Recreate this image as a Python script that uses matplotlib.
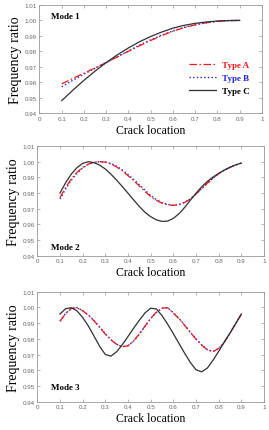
import numpy as np
import matplotlib
matplotlib.use('Agg')
import matplotlib.pyplot as plt

# crack location grids
x1 = [0.1, 0.15, 0.2, 0.25, 0.3, 0.35, 0.4, 0.45, 0.5, 0.55, 0.6, 0.65, 0.7, 0.75, 0.8, 0.85, 0.9]
x23 = [0.1, 0.125, 0.15, 0.175, 0.2, 0.225, 0.25, 0.275, 0.3, 0.325, 0.35, 0.375, 0.4,
       0.425, 0.45, 0.475, 0.5, 0.525, 0.55, 0.575, 0.6, 0.625, 0.65, 0.675, 0.7,
       0.725, 0.75, 0.775, 0.8, 0.825, 0.85, 0.875, 0.9]

# mode 1
m1_a = [0.9589, 0.9624, 0.9658, 0.9692, 0.9727, 0.9763, 0.9800, 0.9836, 0.9870, 0.9902,
        0.9930, 0.9953, 0.9971, 0.9985, 0.9994, 0.9999, 1.0]
m1_b = [0.9570, 0.9612, 0.9652, 0.9690, 0.9727, 0.9765, 0.9803, 0.9840, 0.9874, 0.9905,
        0.9932, 0.9955, 0.9972, 0.9985, 0.9994, 0.9999, 1.0]
m1_c = [0.9480, 0.9548, 0.9612, 0.9672, 0.9727, 0.9777, 0.9822, 0.9862, 0.9896, 0.9925,
        0.9950, 0.9968, 0.9981, 0.9990, 0.9996, 0.9999, 1.0]

# mode 2
m2_a = [0.9772, 0.9835, 0.9890, 0.9932, 0.9964, 0.9985, 0.9996, 1.0, 0.9997, 0.9985,
        0.9966, 0.9941, 0.9911, 0.9879, 0.9845, 0.9810, 0.9778, 0.9753, 0.9735, 0.9725,
        0.9721, 0.9726, 0.9740, 0.9762, 0.9794, 0.9828, 0.9862, 0.9895, 0.9924, 0.9946,
        0.9964, 0.9979, 0.9991]
m2_b = [0.9762, 0.9826, 0.9882, 0.9926, 0.9960, 0.9983, 0.9995, 1.0, 0.9998, 0.9988,
        0.9971, 0.9947, 0.9918, 0.9887, 0.9853, 0.9818, 0.9785, 0.9758, 0.9739, 0.9727,
        0.9722, 0.9726, 0.9740, 0.9762, 0.9794, 0.9828, 0.9862, 0.9895, 0.9924, 0.9946,
        0.9964, 0.9979, 0.9991]
m2_c = [0.9800, 0.9866, 0.9921, 0.9962, 0.9989, 1.0, 0.9994, 0.9978, 0.9953, 0.9920,
        0.9882, 0.9841, 0.9799, 0.9756, 0.9714, 0.9677, 0.9649, 0.9629, 0.9619, 0.9621,
        0.9638, 0.9668, 0.9708, 0.9754, 0.9799, 0.9840, 0.9874, 0.9902, 0.9925, 0.9947,
        0.9964, 0.9980, 0.9991]

# mode 3
m3_a = [0.9911, 0.9960, 0.9993, 0.9998, 0.9979, 0.9950, 0.9915, 0.9873, 0.9830, 0.9793,
        0.9765, 0.9749, 0.9756, 0.9787, 0.9831, 0.9881, 0.9930, 0.9970, 0.9995, 0.9998,
        0.9964, 0.9928, 0.9885, 0.9840, 0.9798, 0.9760, 0.9730, 0.9719, 0.9739, 0.9781,
        0.9837, 0.9897, 0.9956]
m3_b = [0.9914, 0.9962, 0.9994, 0.9998, 0.9980, 0.9952, 0.9917, 0.9875, 0.9832, 0.9795,
        0.9766, 0.9750, 0.9756, 0.9786, 0.9830, 0.9879, 0.9928, 0.9968, 0.9994, 0.9998,
        0.9966, 0.9930, 0.9887, 0.9842, 0.9800, 0.9762, 0.9731, 0.9719, 0.9738, 0.9780,
        0.9836, 0.9896, 0.9956]
m3_c = [0.9958, 0.9992, 0.9998, 0.9978, 0.9936, 0.9882, 0.9818, 0.9752, 0.9700, 0.9690,
        0.9718, 0.9763, 0.9815, 0.9868, 0.9918, 0.9965, 0.9995, 0.9990, 0.9948, 0.9893,
        0.9833, 0.9770, 0.9708, 0.9650, 0.9603, 0.9590, 0.9614, 0.9664, 0.9720, 0.9779,
        0.9837, 0.9897, 0.9958]

labels = ['Type A', 'Type B', 'Type C']
xticks = [0, 0.1, 0.2, 0.3, 0.4, 0.5, 0.6, 0.7, 0.8, 0.9, 1]
yticks = [0.94, 0.95, 0.96, 0.97, 0.98, 0.99, 1.00, 1.01]

serif = 'Liberation Serif'
fig = plt.figure(figsize=(2.69, 4.31), dpi=100)

panels = [
    ([0.1468, 0.7355, 0.8271, 0.2506], x1, m1_a, m1_b, m1_c, 'Mode 1', (0.05, 0.90)),
    ([0.1387, 0.4044, 0.8428, 0.2545], x23, m2_a, m2_b, m2_c, 'Mode 2', (0.059, 0.08)),
    ([0.1387, 0.0657, 0.8428, 0.2552], x23, m3_a, m3_b, m3_c, 'Mode 3', (0.059, 0.136)),
]

for i, (pos, x, a, b, c, mode, mpos) in enumerate(panels):
    ax = fig.add_axes(pos)
    lb, = ax.plot(x, b, color='#2020e0', ls=':', lw=1.0)
    la, = ax.plot(x, a, color='#f01818', lw=0.9, dashes=(6, 2, 1.2, 2))
    lc, = ax.plot(x, c, color='#303030', ls='-', lw=0.9)
    ax.set_xlim(0, 1)
    ax.set_ylim(0.94, 1.01)
    ax.set_xticks(xticks)
    ax.set_xticklabels(['0', '0.1', '0.2', '0.3', '0.4', '0.5', '0.6', '0.7', '0.8', '0.9', '1'])
    ax.set_yticks(yticks)
    ax.set_yticklabels(['%.2f' % v for v in yticks])
    ax.tick_params(direction='in', length=2, width=0.5, top=True, right=True,
                   labelsize=4.5, colors='#999999', labelcolor='#666666', pad=2)
    for lab in ax.get_xticklabels() + ax.get_yticklabels():
        lab.set_family('Liberation Sans')
    for s in ax.spines.values():
        s.set_color('#999999')
        s.set_linewidth(0.6)
    ax.set_xlabel('Crack location', family=serif, fontsize=8.5, labelpad=2)
    ax.set_ylabel('Frequency ratio', family=serif, fontsize=10, labelpad=2)
    ax.text(mpos[0], mpos[1], mode, transform=ax.transAxes, family=serif,
            fontweight='bold', fontsize=6.5, va='center', ha='left')
    if i == 0:
        leg = ax.legend([la, lb, lc], labels, loc='lower right', bbox_to_anchor=(0.98, 0.09),
                        frameon=False, handlelength=3.0, handletextpad=0.6, labelspacing=0.5,
                        prop={'family': serif, 'weight': 'bold', 'size': 6.5})
        for t, col in zip(leg.get_texts(), ['#f01818', '#2020e0', 'black']):
            t.set_color(col)

fig.savefig('out.png', dpi=100)
